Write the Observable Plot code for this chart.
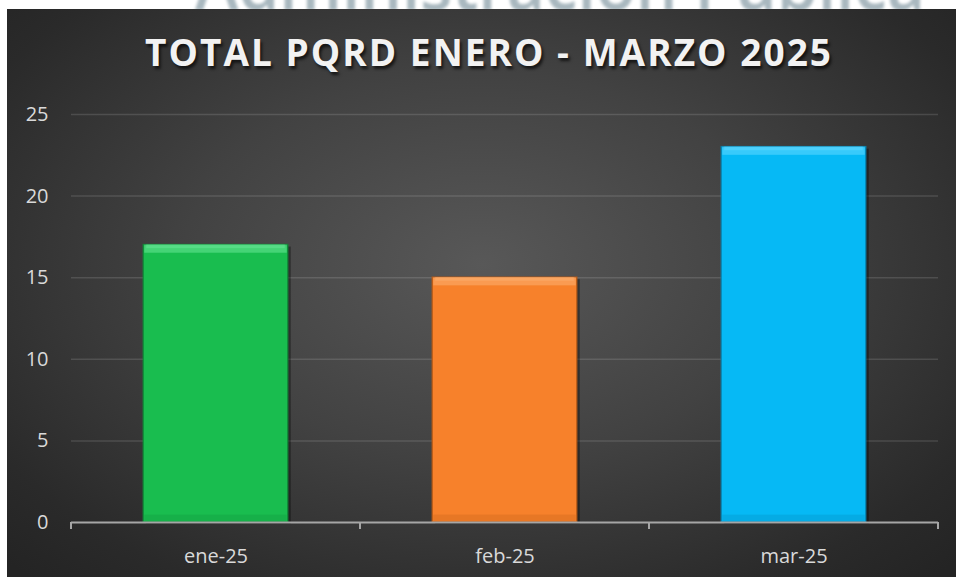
<!DOCTYPE html>
<html>
<head>
<meta charset="utf-8">
<script src="https://cdn.jsdelivr.net/npm/d3@7"></script>
<script src="https://cdn.jsdelivr.net/npm/@observablehq/plot@0.6"></script>
<style>
  html, body { margin: 0; padding: 0; background: #ffffff; width: 956px; height: 577px; overflow: hidden; }
  #wm { position: absolute; left: 195px; top: -52px; font-family: "Open Sans", sans-serif; font-weight: 600;
        font-size: 70px; line-height: 1; color: #a9b8bf; white-space: nowrap; filter: blur(1.6px);
        transform-origin: 0 0; }
  #panel { position: absolute; left: 7px; top: 9px; width: 949px; height: 568px; overflow: hidden;
           background: radial-gradient(ellipse 70% 75% at 50% 45%, #585858 0%, #424242 45%, #2a2a2a 85%, #242424 100%); }
  #title { position: absolute; top: 24px; left: 0; white-space: nowrap; font-family: "Open Sans", sans-serif;
           font-weight: 700; font-size: 37px; line-height: 1; color: #f2f2f2;
           text-shadow: 2px 3px 3px rgba(0,0,0,0.65); }
  #chart { position: absolute; left: 0; top: 80px; }
</style>
</head>
<body>
<div id="wm">Administración Pública</div>
<div id="panel">
  <div id="title">TOTAL PQRD ENERO - MARZO 2025</div>
  <div id="chart"></div>
</div>
<script>
const months = ["ene-25", "feb-25", "mar-25"];
const totals = [17, 15, 23];
const yTicks = [0, 5, 10, 15, 20, 25];
const barColors = ["#19bd4f", "#f7812b", "#06b9f5"];
const barLight = ["#62e391", "#fcae6c", "#5ad5ff"];
const barDark = ["#0f8a37", "#b95a15", "#0584b3"];

const data = months.map((m, i) => ({month: m, value: totals[i], color: barColors[i], light: barLight[i], dark: barDark[i]}));

// watermark width fit
const wm = document.getElementById("wm");
wm.style.transform = `scaleX(${730 / wm.getBoundingClientRect().width})`;

// title letter-spacing fit
const title = document.getElementById("title");
const txt = title.textContent;
const natural = title.getBoundingClientRect().width;
title.style.letterSpacing = ((686 - natural) / (txt.length - 1)) + "px";
title.style.left = (145 - 7) + "px";

const plot = Plot.plot({
  width: 949,
  height: 488,
  marginLeft: 64,
  marginRight: 18,
  marginTop: 25,
  marginBottom: 55,
  style: {background: "transparent", color: "#d9d9d9", fontFamily: "'Open Sans', sans-serif", fontSize: "20px", overflow: "visible"},
  x: {domain: months, paddingInner: 0.5, paddingOuter: 0.25, round: false, label: null},
  y: {domain: [0, 25], label: null},
  marks: [
    Plot.ruleY(yTicks.filter(t => t > 0), {stroke: "#ffffff", strokeOpacity: 0.13, strokeWidth: 1.5}),
    // shadow
    Plot.rectY(data, {x: "month", y: "value", fill: "#000000", fillOpacity: 0.35, dx: 3, dy: 2}),
    // main bar
    Plot.rectY(data, {x: "month", y: "value", fill: d => d.color, stroke: d => d.dark, strokeWidth: 1.5, strokeOpacity: 0.8}),
    // bottom bevel
    Plot.rectY(data, {x: "month", y1: 0, y2: 0.45, fill: d => d.dark, fillOpacity: 0.25, insetLeft: 1, insetRight: 1}),
    // top bevel highlight
    Plot.rectY(data, {x: "month", y1: d => d.value - 0.5, y2: "value", fill: d => d.light, fillOpacity: 0.6, insetLeft: 1, insetRight: 1}),
    Plot.rectY(data, {x: "month", y1: d => d.value - 0.22, y2: "value", fill: d => d.light, fillOpacity: 0.6, insetLeft: 3, insetRight: 3}),
    Plot.ruleY([0], {stroke: "#a6a6a6", strokeWidth: 2}),
    Plot.axisY({ticks: yTicks, tickSize: 0, tickPadding: 23, fontSize: 20, fill: "#d9d9d9"}),
    Plot.axisX({tickSize: 0, tickPadding: 26, fontSize: 20, fill: "#d9d9d9"})
  ]
});
document.getElementById("chart").appendChild(plot);

// tick marks at band boundaries, from Plot's own scales
const sx = plot.scale("x");
const sy = plot.scale("y");
const gap = (sx.step - sx.bandwidth) / 2;
const bounds = months.map(m => sx.apply(m) - gap);
bounds.push(sx.apply(months[months.length - 1]) + sx.bandwidth + gap);
const y0 = sy.apply(0);
d3.select(plot).append("g")
  .selectAll("line").data(bounds).join("line")
  .attr("x1", d => d).attr("x2", d => d)
  .attr("y1", y0).attr("y2", y0 + 7)
  .attr("stroke", "#a6a6a6").attr("stroke-width", 2);
</script>
</body>
</html>
